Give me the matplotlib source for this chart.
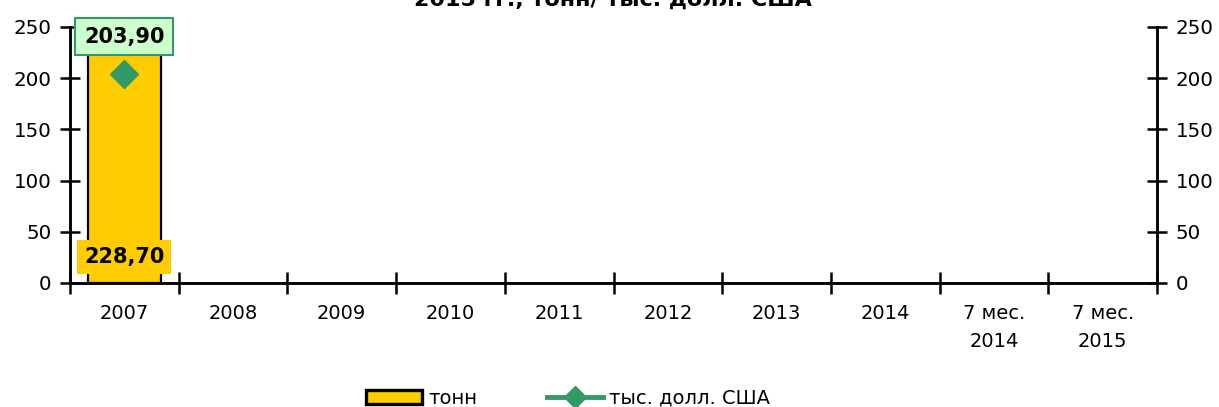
import numpy as np
import matplotlib
matplotlib.use("Agg")
import matplotlib.pyplot as plt
from matplotlib.ticker import FixedLocator, NullFormatter

plt.rcParams['font.family'] = ['DejaVu Sans']

categories = ["2007", "2008", "2009", "2010", "2011", "2012", "2013", "2014",
              "7 мес.\n2014", "7 мес.\n2015"]
tonnes = [228.70, np.nan, np.nan, np.nan, np.nan, np.nan, np.nan, np.nan, np.nan, np.nan]
usd_thousand = [203.90, np.nan, np.nan, np.nan, np.nan, np.nan, np.nan, np.nan, np.nan, np.nan]
tonnes_labels = ["228,70"]
usd_labels = ["203,90"]
title_text = "2015 гг., тонн/ тыс. долл. США"

BAR_COLOR = "#FFCC00"
LINE_COLOR = "#339966"

fig = plt.figure(figsize=(12.19, 4.07), dpi=100)
ax = fig.add_axes([70 / 1219, 1 - 283 / 407, (1157 - 70) / 1219, 256 / 407])
ax2 = ax.twinx()

x = np.arange(len(categories))
bars = ax.bar(x, tonnes, width=0.67, color=BAR_COLOR, edgecolor="black",
              linewidth=1.6, zorder=2, label="тонн")
line, = ax2.plot(x, usd_thousand, color=LINE_COLOR, linewidth=3.5, marker="D",
                 markersize=14, zorder=3, label="тыс. долл. США")

for a in (ax, ax2):
    a.set_xlim(-0.5, len(categories) - 0.5)
    a.set_ylim(0, 250)
    a.set_yticks([0, 50, 100, 150, 200, 250])
    for s in a.spines.values():
        s.set_linewidth(1.8)
    a.spines["top"].set_visible(False)

ax.patch.set_visible(False)
ax2.set_zorder(ax.get_zorder() + 1)

# category boundaries carry the tick marks, centres carry the labels
ax.xaxis.set_major_locator(FixedLocator(np.arange(len(categories) + 1) - 0.5))
ax.xaxis.set_major_formatter(NullFormatter())
ax.xaxis.set_minor_locator(FixedLocator(x))
ax.set_xticks(x, categories, minor=True)
ax.tick_params(axis="x", which="major", direction="inout", length=16, width=1.8)
ax.tick_params(axis="x", which="minor", length=0, pad=15, labelsize=14)
for t in ax.get_xticklabels(minor=True):
    t.set_linespacing(1.6)

ax.tick_params(axis="y", direction="inout", length=15, width=1.8, labelsize=14.3, pad=6)
ax2.tick_params(axis="y", direction="inout", length=15, width=1.8, labelsize=14.3, pad=6)

# value labels
for i, lab in enumerate(tonnes_labels):
    ax.annotate(lab, xy=(x[i], 0), xytext=(0, 18.5), textcoords="offset points",
                ha="center", va="center", fontsize=15, fontweight="bold",
                bbox=dict(boxstyle="square,pad=0.33", facecolor=BAR_COLOR, edgecolor="none"),
                zorder=5, annotation_clip=False)
for i, lab in enumerate(usd_labels):
    ax2.annotate(lab, xy=(x[i], usd_thousand[i]), xytext=(0, 27), textcoords="offset points",
                 ha="center", va="center", fontsize=15, fontweight="bold",
                 bbox=dict(boxstyle="square,pad=0.42", facecolor="#CCFFCC",
                           edgecolor=LINE_COLOR, linewidth=1.5),
                 zorder=5, annotation_clip=False)

fig.text(613 / 1219, 1 - 6 / 407, title_text, ha="center", va="baseline",
         fontsize=16, fontweight="bold")

leg = fig.legend(handles=[bars, line], loc="center", bbox_to_anchor=(568 / 1219, 1 - 398 / 407),
                 ncol=2, frameon=False, fontsize=14, handlelength=2.9, handletextpad=0.3,
                 columnspacing=3.6, handleheight=0.7, markerscale=0.8)
for h in leg.legend_handles:
    if hasattr(h, "set_edgecolor") and not hasattr(h, "get_marker"):
        h.set_linewidth(2.4)

fig.savefig("out.png", dpi=100)
